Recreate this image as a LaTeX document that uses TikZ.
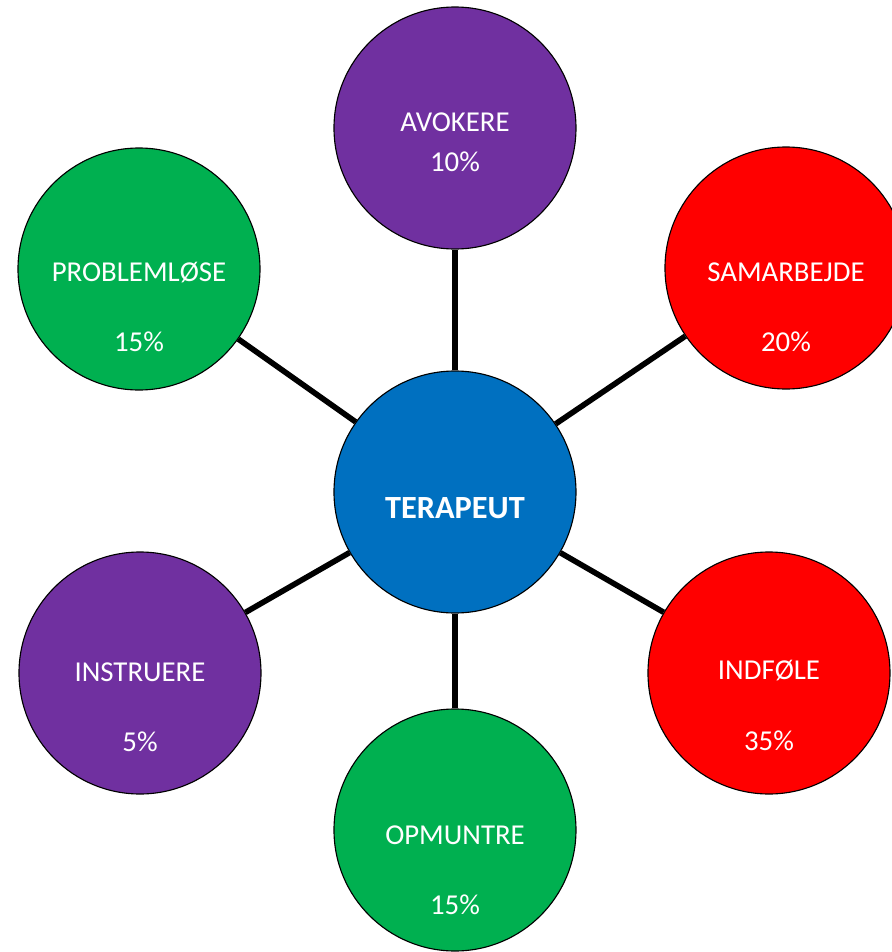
\documentclass[tikz,border=0pt]{standalone}
\usepackage{fontspec}
\setmainfont{Carlito}
\definecolor{rolepurple}{HTML}{7030A0}
\definecolor{rolegreen}{HTML}{00B050}
\definecolor{rolered}{HTML}{FF0000}
\definecolor{roleblue}{HTML}{0070C0}
\tikzset{
  bubble/.style={circle,draw=black,line width=.8pt,fill=#1,minimum size=6.05cm,inner sep=0pt},
  bubbletext/.style={text=white,align=center,font=\fontsize{20.5}{24}\selectfont},
  spoke/.style={line width=4pt}
}
\begin{document}
\begin{tikzpicture}
\useasboundingbox (-11.375,-11.5) rectangle (10.925,12.3);
\node[bubble=roleblue] (terapeut) at (0,0) {};
\node[bubble=rolepurple] (avokere) at (0,9.1) {};
\node[bubble=rolegreen] (problem) at (-7.9,5.575) {};
\node[bubble=rolered] (samarb) at (8.275,5.6) {};
\node[bubble=rolepurple] (instr) at (-7.875,-4.525) {};
\node[bubble=rolered] (indfoel) at (7.85,-4.525) {};
\node[bubble=rolegreen] (opmunt) at (0,-8.45) {};
\draw[spoke] (terapeut) -- (avokere);
\draw[spoke] (terapeut) -- (problem);
\draw[spoke] (terapeut) -- (samarb);
\draw[spoke] (terapeut) -- (instr);
\draw[spoke] (terapeut) -- (indfoel);
\draw[spoke] (terapeut) -- (opmunt);
\node[bubbletext,font=\fontsize{23}{26}\selectfont\bfseries] (terapeut-t) at ([yshift=-.4cm]terapeut) {TERAPEUT};
\node[bubbletext] (avokere-t) at ([yshift=-.35cm]avokere) {AVOKERE\\[4.5pt]10\%};
\node[bubbletext] (problem-t) at ([yshift=-.94cm]problem) {PROBLEMLØSE\\[26pt]15\%};
\node[bubbletext] (samarb-t) at ([yshift=-.99cm]samarb) {SAMARBEJDE\\[26pt]20\%};
\node[bubbletext] (instr-t) at ([yshift=-.86cm]instr) {INSTRUERE\\[26pt]5\%};
\node[bubbletext] (indfoel-t) at ([yshift=-.81cm]indfoel) {INDFØLE\\[26pt]35\%};
\node[bubbletext] (opmunt-t) at ([yshift=-1.01cm]opmunt) {OPMUNTRE\\[26pt]15\%};
\end{tikzpicture}
\end{document}
